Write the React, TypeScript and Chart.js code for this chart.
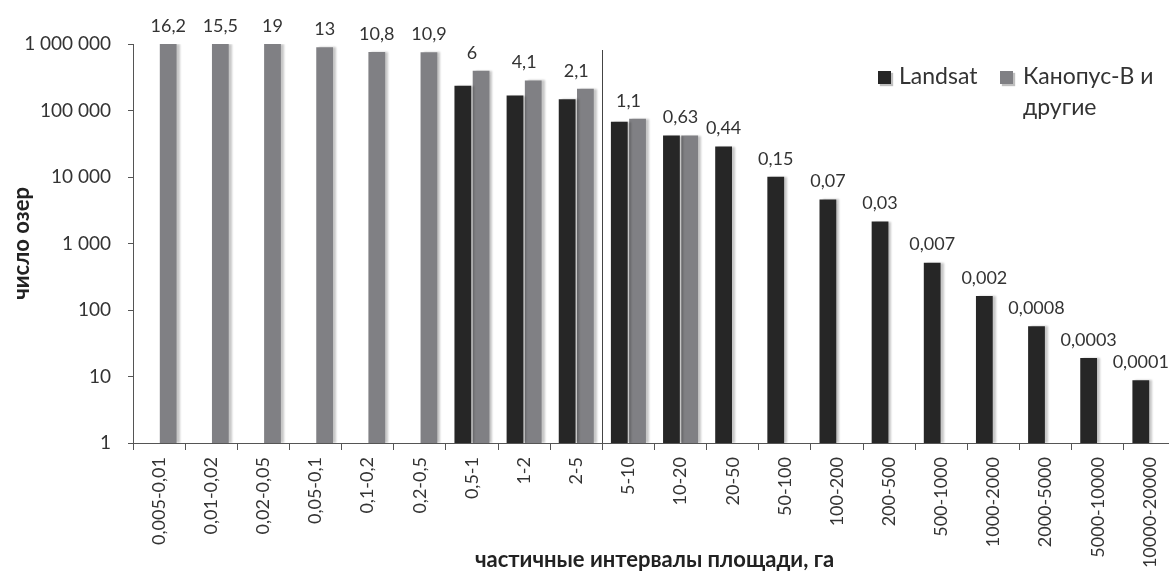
import React, { useEffect, useRef } from 'react';
import { Chart, registerables } from 'chart.js';

Chart.register(...registerables);

// ---- data ----
const categories = [
  '0,005-0,01', '0,01-0,02', '0,02-0,05', '0,05-0,1', '0,1-0,2', '0,2-0,5',
  '0,5-1', '1-2', '2-5', '5-10', '10-20', '20-50', '50-100', '100-200',
  '200-500', '500-1000', '1000-2000', '2000-5000', '5000-10000', '10000-20000',
];
const landsat = [
  null, null, null, null, null, null,
  235000, 168000, 147000, 67600, 42000, 28700, 10100, 4600,
  2140, 515, 162, 57, 19, 8.8,
];
const kanopus = [
  1000000, 1000000, 1000000, 890000, 758000, 750000,
  396000, 283000, 212000, 75000, 42000, null, null, null,
  null, null, null, null, null, null,
];
const areaShare = [
  '16,2', '15,5', '19', '13', '10,8', '10,9', '6', '4,1', '2,1', '1,1',
  '0,63', '0,44', '0,15', '0,07', '0,03', '0,007', '0,002', '0,0008', '0,0003', '0,0001',
];
const yTicks = [1, 10, 100, 1000, 10000, 100000, 1000000];
const seriesNames = ['Landsat', 'Канопус-В и другие'];
const legendLines = [['Landsat'], ['Канопус-В и', 'другие']];

const CANVAS_W = 1190;
const CANVAS_H = 578;
const FAMILY = 'Lato, "Open Sans", sans-serif';
const TEXT = '#333333';
const AXIS = '#555555';
const BLACK = '#262626';
const GRAY = '#808084';

function fmt(v: number): string {
  return String(Math.round(v)).replace(/\B(?=(\d{3})+(?!\d))/g, ' ');
}

const decorPlugin = {
  id: 'decor',
  beforeDatasetsDraw(chart: any) {
    const c = chart.ctx;
    c.save();
    c.shadowColor = 'rgba(0,0,0,0.22)';
    c.shadowOffsetX = 3;
    c.shadowOffsetY = 0;
    c.shadowBlur = 2;
  },
  afterDatasetsDraw(chart: any) {
    const ctx = chart.ctx;
    ctx.restore();
    ctx.save();
    const ys = chart.scales.y;
    const xs = chart.scales.x;
    // value labels (share of area, %)
    ctx.font = `18px ${FAMILY}`;
    ctx.fillStyle = TEXT;
    ctx.textAlign = 'center';
    ctx.textBaseline = 'bottom';
    categories.forEach((_, i) => {
      const px: number[] = [];
      let maxV = 0;
      chart.data.datasets.forEach((ds: any, d: number) => {
        const v = ds.data[i];
        if (v != null) {
          px.push(chart.getDatasetMeta(d).data[i].x);
          maxV = Math.max(maxV, v);
        }
      });
      if (!px.length) return;
      const x = px.reduce((a, b) => a + b, 0) / px.length;
      ctx.fillText(areaShare[i], x, ys.getPixelForValue(maxV) - 9);
    });
    // separator between 2-5 and 5-10
    const sx = Math.round((xs.getPixelForValue(8) + xs.getPixelForValue(9)) / 2) + 0.5;
    ctx.strokeStyle = '#444';
    ctx.lineWidth = 1;
    ctx.beginPath();
    ctx.moveTo(sx, chart.chartArea.top + 6);
    ctx.lineTo(sx, chart.chartArea.bottom);
    ctx.stroke();
    // legend
    const boxX = [878, 1000];
    const textX = [899, 1023];
    const lineY = 77;
    ctx.font = `23px ${FAMILY}`;
    ctx.textAlign = 'left';
    ctx.textBaseline = 'middle';
    chart.data.datasets.forEach((ds: any, d: number) => {
      ctx.save();
      ctx.shadowColor = 'rgba(0,0,0,0.25)';
      ctx.shadowOffsetX = 2;
      ctx.shadowOffsetY = 2;
      ctx.shadowBlur = 1;
      ctx.fillStyle = ds.backgroundColor;
      ctx.fillRect(boxX[d], lineY - 6, 13, 13);
      ctx.restore();
      ctx.fillStyle = TEXT;
      legendLines[d].forEach((t, k) => ctx.fillText(t, textX[d], lineY + k * 31));
    });
    ctx.restore();
  },
};

export default function App() {
  const ref = useRef<HTMLCanvasElement>(null);
  useEffect(() => {
    if (!ref.current) return;
    const chart = new Chart(ref.current, {
      type: 'bar',
      data: {
        labels: categories,
        datasets: [
          { label: seriesNames[0], data: landsat as any, backgroundColor: BLACK, borderWidth: 0 },
          { label: seriesNames[1], data: kanopus as any, backgroundColor: GRAY, borderWidth: 0 },
        ],
      },
      options: {
        animation: false,
        responsive: false,
        devicePixelRatio: 1,
        layout: { padding: { left: 0, right: CANVAS_W - 1176, top: 44, bottom: 0 } },
        datasets: { bar: { categoryPercentage: 0.7, barPercentage: 0.92 } } as any,
        plugins: { legend: { display: false }, tooltip: { enabled: false } },
        scales: {
          x: {
            grid: { display: true, drawOnChartArea: false, offset: true, tickLength: 7, color: AXIS },
            border: { color: AXIS },
            ticks: {
              minRotation: 90, maxRotation: 90, autoSkip: false, color: TEXT,
              font: { family: FAMILY, size: 18 }, padding: 7,
            },
            title: {
              display: true, text: 'частичные интервалы площади, га', color: '#222',
              font: { family: FAMILY, size: 22, weight: 'bold' }, padding: { top: 0, bottom: 5 },
            },
            afterFit(s: any) { s.height = CANVAS_H - 443; },
          },
          y: {
            type: 'logarithmic', min: 1, max: 1000000,
            afterBuildTicks(s: any) { s.ticks = yTicks.map((v) => ({ value: v })); },
            grid: { display: true, drawOnChartArea: false, tickLength: 5, color: AXIS },
            border: { color: AXIS },
            ticks: {
              color: TEXT, font: { family: FAMILY, size: 19 }, padding: 17,
              callback: (v: any) => fmt(Number(v)),
            },
            title: {
              display: true, text: 'число озер', color: '#222',
              font: { family: FAMILY, size: 22, weight: 'bold' }, padding: { top: 9, bottom: 0 },
            },
            afterFit(s: any) { s.width = 133; },
          },
        },
      } as any,
      plugins: [decorPlugin],
    });
    return () => chart.destroy();
  }, []);
  return (
    <div style={{ position: 'fixed', left: 0, top: 0, width: 1169, height: 578, overflow: 'hidden', background: '#fff' }}>
      <canvas ref={ref} width={CANVAS_W} height={CANVAS_H} style={{ display: 'block' }} />
    </div>
  );
}
